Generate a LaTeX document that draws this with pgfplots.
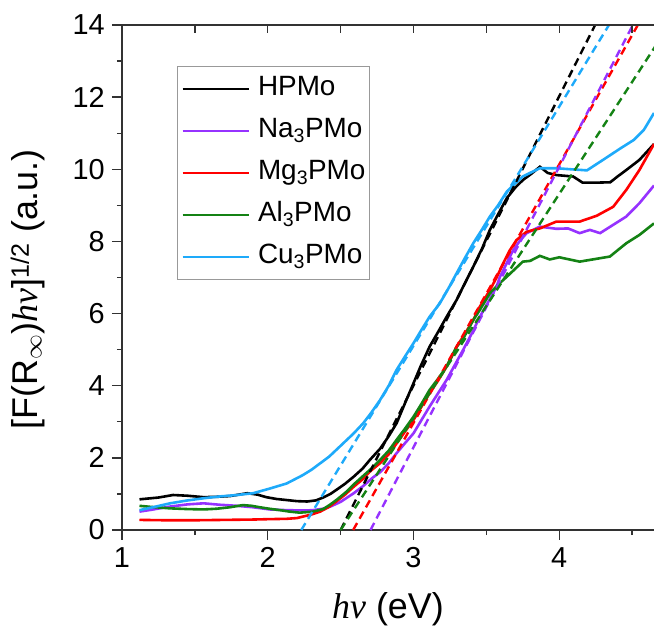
\documentclass[border=0pt]{standalone}
\usepackage{fontspec}
\setmainfont{Liberation Sans}
\newfontfamily\serifit{Liberation Serif}
\usepackage{pgfplots}
\pgfplotsset{compat=1.18}

\definecolor{cblue}{RGB}{30,170,250}
\definecolor{cpurple}{RGB}{150,50,255}
\definecolor{cred}{RGB}{255,0,0}
\definecolor{cgreen}{RGB}{20,130,20}
\definecolor{axisgray}{RGB}{50,50,50}

\pgfplotstableread{
x y
1.12 0.85
1.25 0.90
1.35 0.97
1.45 0.95
1.56 0.91
1.65 0.92
1.74 0.94
1.80 0.98
1.86 1.02
1.93 0.98
1.99 0.91
2.06 0.86
2.13 0.83
2.20 0.80
2.27 0.79
2.33 0.82
2.38 0.90
2.43 1.00
2.47 1.11
2.53 1.28
2.59 1.48
2.65 1.70
2.70 1.94
2.77 2.25
2.83 2.60
2.884 2.96
2.94 3.50
3.00 4.07
3.05 4.55
3.11 5.08
3.17 5.50
3.227 5.91
3.296 6.38
3.34 6.74
3.41 7.30
3.47 7.80
3.524 8.32
3.58 8.75
3.64 9.20
3.70 9.50
3.75 9.70
3.81 9.88
3.867 10.07
3.92 9.90
3.98 9.84
4.095 9.80
4.16 9.63
4.26 9.63
4.35 9.64
4.40 9.80
4.46 9.98
4.55 10.26
4.65 10.70
}\hpmo

\pgfplotstableread{
x y
1.12 0.51
1.20 0.56
1.33 0.65
1.45 0.71
1.56 0.74
1.67 0.70
1.79 0.67
1.90 0.63
2.015 0.57
2.13 0.55
2.25 0.54
2.31 0.55
2.38 0.59
2.43 0.65
2.50 0.78
2.59 1.02
2.655 1.22
2.72 1.45
2.77 1.60
2.83 1.85
2.884 2.13
2.94 2.40
3.00 2.68
3.055 3.05
3.11 3.42
3.17 3.80
3.227 4.16
3.28 4.55
3.34 4.99
3.40 5.45
3.455 5.91
3.51 6.30
3.57 6.75
3.593 7.02
3.64 7.40
3.684 7.76
3.73 8.02
3.776 8.23
3.867 8.41
3.98 8.35
4.06 8.36
4.14 8.23
4.21 8.32
4.28 8.23
4.37 8.46
4.46 8.69
4.55 9.06
4.65 9.55
}\napmo

\pgfplotstableread{
x y
1.12 0.28
1.30 0.27
1.50 0.27
1.70 0.28
1.90 0.29
2.00 0.30
2.13 0.31
2.20 0.33
2.24 0.37
2.30 0.43
2.36 0.51
2.42 0.64
2.47 0.79
2.53 0.98
2.59 1.20
2.655 1.42
2.70 1.62
2.77 1.85
2.83 2.10
2.884 2.40
2.94 2.72
3.00 3.05
3.055 3.42
3.11 3.79
3.17 4.15
3.227 4.53
3.296 5.08
3.34 5.36
3.41 5.82
3.455 6.19
3.524 6.65
3.57 7.00
3.615 7.39
3.66 7.75
3.707 8.04
3.776 8.27
3.867 8.36
3.98 8.55
4.14 8.55
4.256 8.71
4.37 8.96
4.46 9.43
4.55 9.98
4.65 10.70
}\mgpmo

\pgfplotstableread{
x y
1.12 0.67
1.20 0.64
1.33 0.60
1.45 0.58
1.56 0.57
1.65 0.59
1.74 0.63
1.83 0.69
1.89 0.67
1.946 0.63
2.01 0.59
2.084 0.55
2.15 0.51
2.22 0.48
2.31 0.51
2.38 0.58
2.427 0.70
2.48 0.86
2.54 1.06
2.60 1.30
2.655 1.50
2.71 1.70
2.77 1.94
2.83 2.20
2.884 2.50
2.94 2.80
3.00 3.14
3.055 3.50
3.11 3.88
3.17 4.20
3.227 4.53
3.296 5.08
3.34 5.30
3.41 5.82
3.455 6.10
3.524 6.56
3.58 6.80
3.64 7.02
3.75 7.44
3.80 7.46
3.867 7.60
3.935 7.50
4.00 7.56
4.14 7.44
4.347 7.58
4.46 7.95
4.55 8.18
4.65 8.50
}\alpmo

\pgfplotstableread{
x y
1.12 0.55
1.20 0.62
1.33 0.74
1.45 0.82
1.56 0.88
1.67 0.93
1.79 0.97
1.90 1.02
2.015 1.15
2.13 1.29
2.24 1.52
2.30 1.67
2.36 1.85
2.42 2.03
2.47 2.22
2.53 2.45
2.59 2.68
2.655 2.96
2.71 3.25
2.77 3.60
2.83 4.00
2.884 4.44
2.94 4.80
3.00 5.18
3.055 5.55
3.11 5.91
3.18 6.28
3.24 6.70
3.296 7.12
3.35 7.52
3.41 7.95
3.47 8.33
3.524 8.69
3.58 9.00
3.64 9.38
3.70 9.62
3.75 9.80
3.81 9.92
3.867 10.03
3.98 10.03
4.08 10.00
4.19 9.97
4.30 10.26
4.42 10.58
4.51 10.81
4.58 11.09
4.65 11.56
}\cupmo

\begin{document}
\begin{tikzpicture}
\begin{axis}[
  at={(0,0)}, anchor=south west,
  scale only axis, width=532bp, height=505bp,
  xmin=1, xmax=4.65, ymin=0, ymax=14,
  axis x line*=bottom, axis y line*=left,
  axis line style={line width=1.3bp, draw=axisgray, -},
  every tick/.style={line width=1.3bp, draw=axisgray},
  tick align=outside,
  major tick length=10bp, minor tick length=5bp,
  xtick={1,2,3,4}, minor xtick={1.5,2.5,3.5,4.5},
  ytick={0,2,...,14}, minor ytick={1,3,...,13},
  /pgf/number format/assume math mode=true,
  tick label style={font=\fontsize{29}{32}\selectfont, inner sep=0pt},
  xticklabel style={anchor=north, yshift=-7bp},
  yticklabel style={anchor=east, xshift=-7bp},
  xlabel={{\serifit\itshape hν} (eV)},
  ylabel={[F(R$_\infty$){\serifit\itshape hν}]\textsuperscript{1/2} (a.u.)},
  label style={font=\fontsize{36}{40}\selectfont},
  xlabel style={at={(axis description cs:0.5,-0.176)}, anchor=base},
  ylabel style={at={(axis description cs:-0.158,0.477)}, anchor=base, rotate=0},
  legend style={at={(axis description cs:0.1034,0.9188)}, anchor=north west,
    draw=gray!80, line width=0.8bp, font=\fontsize{28}{30}\selectfont,
    inner xsep=4bp, inner ysep=8bp, row sep=13bp, column sep=8bp,
    nodes={inner sep=0pt, text height=21bp, text depth=8bp}},
  legend cell align=left,
  legend image code/.code={\draw[#1, line width=2.6bp] (0bp,0bp) -- (66bp,0bp);},
]
\addplot[black, line width=2.6bp] table {\hpmo};
\addlegendentry{HPMo}
\addplot[cpurple, line width=2.6bp] table {\napmo};
\addlegendentry{Na\textsubscript{3}PMo}
\addplot[cred, line width=2.6bp] table {\mgpmo};
\addlegendentry{Mg\textsubscript{3}PMo}
\addplot[cgreen, line width=2.6bp] table {\alpmo};
\addlegendentry{Al\textsubscript{3}PMo}
\addplot[cblue, line width=2.6bp] table {\cupmo};
\addlegendentry{Cu\textsubscript{3}PMo}

\addplot[black, line width=2.4bp, dash pattern=on 8bp off 5bp, forget plot] coordinates {(2.50,0) (4.246,14)};
\addplot[cblue, line width=2.4bp, dash pattern=on 8bp off 5bp, forget plot] coordinates {(2.23,0) (4.341,14)};
\addplot[cred, line width=2.4bp, dash pattern=on 8bp off 5bp, forget plot] coordinates {(2.586,0) (4.539,14)};
\addplot[cpurple, line width=2.4bp, dash pattern=on 8bp off 5bp, forget plot] coordinates {(2.705,0) (4.505,14)};
\addplot[cgreen, line width=2.4bp, dash pattern=on 8bp off 5bp, forget plot] coordinates {(2.50,0) (4.754,14)};
\end{axis}
\begin{axis}[
  at={(0,0)}, anchor=south west,
  scale only axis, width=532bp, height=505bp,
  xmin=1, xmax=4.65, ymin=0, ymax=14,
  axis x line*=top, axis y line=none,
  axis line style={line width=1.3bp, draw=axisgray, -},
  every tick/.style={line width=1.3bp, draw=axisgray},
  tick align=inside, major tick length=8bp,
  xtick={1.5,2,...,4.5}, xticklabels={},
]
\end{axis}
\pgfresetboundingbox
\useasboundingbox (-122bp,-97bp) rectangle (532bp,530bp);
\end{tikzpicture}
\end{document}
